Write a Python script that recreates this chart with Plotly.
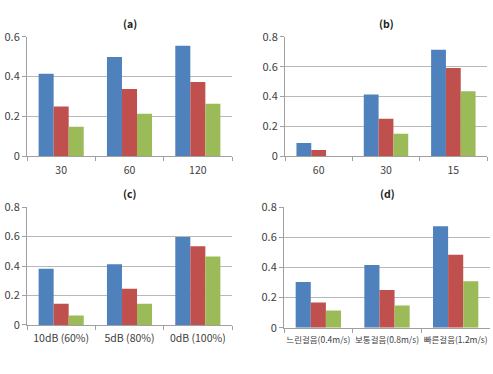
import plotly.graph_objects as go

cats_a = ["30", "60", "120"]
a_blue = [0.414, 0.498, 0.555]
a_red = [0.250, 0.338, 0.373]
a_green = [0.149, 0.214, 0.264]

cats_b = ["60", "30", "15"]
b_blue = [0.090, 0.414, 0.713]
b_red = [0.043, 0.252, 0.591]
b_green = [0.0, 0.151, 0.435]

cats_c = ["10dB (60%)", "5dB (80%)", "0dB (100%)"]
c_blue = [0.382, 0.412, 0.597]
c_red = [0.144, 0.246, 0.535]
c_green = [0.063, 0.144, 0.464]

cats_d = ["느린걸음(0.4m/s)", "보통걸음(0.8m/s)", "빠른걸음(1.2m/s)"]
d_blue = [0.303, 0.417, 0.673]
d_red = [0.167, 0.250, 0.485]
d_green = [0.114, 0.148, 0.309]

titles = ["(a)", "(b)", "(c)", "(d)"]
colors = ["#4F81BD", "#C0504D", "#9BBB59"]

W, H = 493, 374
panels = [
    (cats_a, [a_blue, a_red, a_green], 0.6, [0, 0.2, 0.4, 0.6], ["0", "0.2", "0.4", "0.6"], (27, 232), (29, 154), 10.5),
    (cats_b, [b_blue, b_red, b_green], 0.8, [0, 0.2, 0.4, 0.6, 0.8], ["0", "0.2", "0.4", "0.6", "0.8"], (285, 487), (29, 154), 10.5),
    (cats_c, [c_blue, c_red, c_green], 0.8, [0, 0.2, 0.4, 0.6, 0.8], ["0", "0.2", "0.4", "0.6", "0.8"], (27, 232), (207, 330), 10.5),
    (cats_d, [d_blue, d_red, d_green], 0.8, [0, 0.2, 0.4, 0.6, 0.8], ["0", "0.2", "0.4", "0.6", "0.8"], (284, 490), (207, 333), 8.5),
]

fig = go.Figure()
font_family = "Noto Sans CJK KR, Open Sans, sans-serif"
layout = dict(
    width=W, height=H, margin=dict(l=0, r=0, t=0, b=0),
    paper_bgcolor="white", plot_bgcolor="white",
    showlegend=False, barmode="group", bargap=0.34, bargroupgap=0,
    font=dict(family=font_family, color="#404040", size=10),
)
annotations = []
for i, (cats, series, ymax, tv, tt, (x0, x1), (y0, y1), xfs) in enumerate(panels):
    n = "" if i == 0 else str(i + 1)
    for s, col in zip(series, colors):
        fig.add_trace(go.Bar(x=cats, y=s, marker=dict(color=col, line=dict(width=0)),
                             xaxis="x" + n, yaxis="y" + n))
    layout["xaxis" + n] = dict(
        domain=[x0 / W, x1 / W], anchor="y" + n, type="category",
        tickson="boundaries", ticks="outside", ticklen=4, tickcolor="#A0A0A0",
        showline=True, linecolor="#A0A0A0", linewidth=1, showgrid=False,
        tickangle=0, ticklabelstandoff=4,
        tickfont=dict(size=xfs, color="#404040"),
    )
    layout["yaxis" + n] = dict(
        domain=[1 - y1 / H, 1 - y0 / H], anchor="x" + n, range=[0, ymax],
        tickvals=tv, ticktext=tt, ticks="outside", ticklen=4, tickcolor="#A0A0A0",
        showline=True, linecolor="#A0A0A0", linewidth=1,
        showgrid=True, gridcolor="#B8B8B8", gridwidth=1, zeroline=False,
        tickfont=dict(size=11, color="#404040"),
    )
    annotations.append(dict(
        text="<b>" + titles[i] + "</b>", xref="paper", yref="paper",
        x=(x0 + x1) / 2 / W, y=1 - (y0 - 14) / H, showarrow=False,
        xanchor="center", yanchor="middle", font=dict(size=10.5, color="#202020"),
    ))
layout["annotations"] = annotations
fig.update_layout(**layout)
fig.write_html("out.html")
